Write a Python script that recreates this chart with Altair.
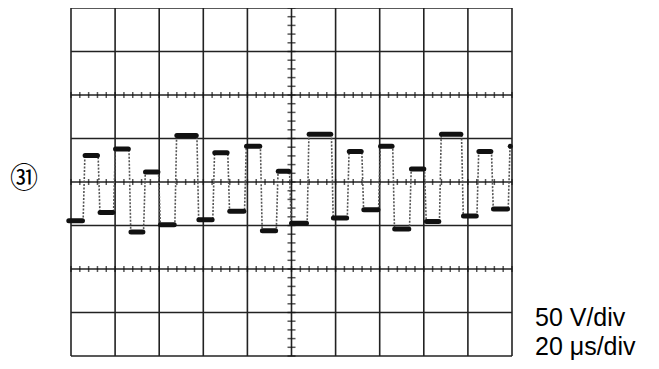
import altair as alt
import pandas as pd
import numpy as np

trace_start = -0.05
trace_end = 9.96
edge_times = [0.29, 0.63, 0.98, 1.33, 1.66, 2.00, 2.37, 2.87, 3.23, 3.57, 3.95, 4.31,
              4.67, 4.97, 5.37, 5.92, 6.28, 6.61, 6.99, 7.31, 7.69, 8.03, 8.37, 8.87,
              9.22, 9.55, 9.93]
levels = [-0.89, 0.61, -0.70, 0.76, -1.15, 0.23, -0.98, 1.07, -0.87, 0.67, -0.67, 0.82,
          -1.12, 0.25, -0.95, 1.10, -0.83, 0.70, -0.64, 0.82, -1.08, 0.30, -0.91, 1.10,
          -0.78, 0.70, -0.62, 0.82]

marker_label = "㉛"
scale_labels = ["50 V/div", "20 μs/div"]

X_DIVS = 10
Y_DIVS = 8

# ---- thin trace through all transitions
pts = [(trace_start, levels[0])]
for i, e in enumerate(edge_times):
    pts.append((e - 0.015, levels[i]))
    pts.append((e + 0.025, levels[i + 1]))
pts.append((trace_end, levels[-1]))
trace_df = pd.DataFrame({"t": [p[0] for p in pts], "v": [p[1] for p in pts],
                         "o": list(range(len(pts)))})

# ---- thick plateaus
bounds = [trace_start] + edge_times + [trace_end]
rows = []
for i, lv in enumerate(levels):
    a = bounds[i] + (0.03 if i > 0 else 0.0)
    b = bounds[i + 1] - (0.03 if i < len(levels) - 1 else 0.0)
    if b > a:
        rows.append({"seg": i, "t": a, "v": lv})
        rows.append({"seg": i, "t": b, "v": lv})
plat_df = pd.DataFrame(rows)

xs = alt.Scale(domain=[0, X_DIVS], nice=False, zero=False)
ys = alt.Scale(domain=[-Y_DIVS / 2, Y_DIVS / 2], nice=False, zero=False)

vgrid = pd.DataFrame({"x": list(range(X_DIVS + 1))})
hgrid = pd.DataFrame({"y": [v - Y_DIVS / 2 for v in range(Y_DIVS + 1)]})

v_lines = alt.Chart(vgrid).mark_rule(color="#222", strokeWidth=1.6).encode(
    x=alt.X("x:Q", scale=xs, axis=None),
    y=alt.value(0), y2=alt.value(348))
h_lines = alt.Chart(hgrid).mark_rule(color="#222", strokeWidth=1.6).encode(
    y=alt.Y("y:Q", scale=ys, axis=None),
    x=alt.value(0), x2=alt.value(441))

xt = np.round(np.arange(0, X_DIVS + 0.001, 0.2), 2)
htick_df = pd.DataFrame([{"x": x, "y": yy} for yy in [2, 0, -2] for x in xt])
yt = np.round(np.arange(-Y_DIVS / 2, Y_DIVS / 2 + 0.001, 0.2), 2)
vtick_df = pd.DataFrame({"x": [5] * len(yt), "y": yt})

h_ticks = alt.Chart(htick_df).mark_tick(orient="vertical", size=6, thickness=1.5, color="#111").encode(
    x=alt.X("x:Q", scale=xs, axis=None), y=alt.Y("y:Q", scale=ys, axis=None))
v_ticks = alt.Chart(vtick_df).mark_tick(orient="horizontal", size=8, thickness=1.5, color="#111").encode(
    x=alt.X("x:Q", scale=xs, axis=None), y=alt.Y("y:Q", scale=ys, axis=None))

trace = alt.Chart(trace_df).mark_line(color="#555", strokeWidth=1.6, strokeDash=[2, 1.5]).encode(
    x=alt.X("t:Q", scale=xs, axis=None), y=alt.Y("v:Q", scale=ys, axis=None), order="o:Q")
plateaus = alt.Chart(plat_df).mark_line(color="#111", strokeWidth=5, strokeCap="round").encode(
    x=alt.X("t:Q", scale=xs, axis=None), y=alt.Y("v:Q", scale=ys, axis=None), detail="seg:N")

marker = alt.Chart(pd.DataFrame({"s": [marker_label]})).mark_text(
    font="Noto Sans CJK JP", fontSize=28, align="center", baseline="middle", color="#000").encode(
    text="s:N", x=alt.value(-47), y=alt.value(172))

lab_df = pd.DataFrame({"s": scale_labels, "i": [0, 1]})
labels = alt.Chart(lab_df).mark_text(
    font="Liberation Sans", fontSize=25, align="left", baseline="alphabetic", color="#000").encode(
    text="s:N", x=alt.value(464),
    y=alt.Y("i:Q", scale=alt.Scale(domain=[0, 1], range=[318, 347]), axis=None))

chart = alt.layer(v_lines, h_lines, h_ticks, v_ticks, trace, plateaus, marker, labels).properties(
    width=441, height=348,
    padding={"left": 63, "top": 0, "right": 139, "bottom": 5},
    autosize=alt.AutoSizeParams(type="none"),
    background="white",
).resolve_scale(y="independent").configure_view(stroke=None)

chart.save("out.html", embed_options={"renderer": "svg", "actions": False})
